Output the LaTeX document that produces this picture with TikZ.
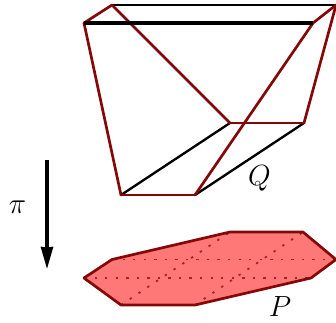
\documentclass[tikz,border=0pt]{standalone}
\usepackage{amsmath, amssymb}
\usepackage{xcolor}
\usetikzlibrary{arrows.meta}
\definecolor{edgered}{rgb}{0.52,0.03,0.03}
\definecolor{shadowred}{rgb}{1,0.47,0.47}

\begin{document}
\begin{tikzpicture}[x=0.03cm,y=-0.03cm,
    rededge/.style={draw=edgered,line width=2.3pt,line join=round,line cap=round},
    blackedge/.style={draw=black,line width=2pt,line cap=round},
    boldedge/.style={draw=black,line width=3.2pt},
    dotline/.style={draw=edgered!75!shadowred,line width=1.5pt,dash pattern=on 2pt off 7pt},
    lbl/.style={font=\Huge,inner sep=0pt}]
    \useasboundingbox (0,0) rectangle (336,322);
    % upper solid
    \coordinate (a) at (84,23);\coordinate (b) at (112,5);
    \coordinate (c) at (336,5);\coordinate (d) at (313,23);
    \coordinate (e) at (121,195);\coordinate (f) at (195,195);
    \coordinate (g) at (304,123);\coordinate (h) at (230,123);
    % shadow
    \coordinate (pa) at (84,278);\coordinate (pb) at (112,259.5);
    \coordinate (ph) at (230,232);\coordinate (pg) at (303,232);
    \coordinate (pc) at (336,259.5);\coordinate (pd) at (311,278);
    \coordinate (pf) at (195,305);\coordinate (pe) at (121,305);
    \draw[blackedge](b)--(c);\draw[blackedge](e)--(h);\draw[blackedge](f)--(g);
    \draw[rededge](a)--(b);\draw[rededge](d)--(c);\draw[rededge](a)--(e);
    \draw[rededge](e)--(f);\draw[rededge](f)--(d);\draw[rededge](b)--(h);
    \draw[rededge](h)--(g);\draw[rededge](g)--(c);
    \draw[boldedge](a)--(d);
    \fill[shadowred](pa)--(pb)--(ph)--(pg)--(pc)--(pd)--(pf)--(pe)--cycle;
    \draw[dotline](pa)--(pd);\draw[dotline](pb)--(pc);
    \draw[dotline](pe)--(ph);\draw[dotline](pf)--(pg);
    \draw[rededge](pa)--(pb)--(ph)--(pg)--(pc)--(pd)--(pf)--(pe)--cycle;
    \coordinate (top) at (47,160);\coordinate (bot) at (47,269);
    \draw[-{Stealth[length=0.66cm,width=0.36cm,inset=0.5pt]},line width=2.7pt](top)--(bot);
    \node[lbl] (q) at (259.5,178) {$Q$};
    \node[lbl] (p) at (280,307) {$P$};
    \node[lbl] (pi) at (17.5,207) {$\pi$};
\end{tikzpicture}
\end{document}
